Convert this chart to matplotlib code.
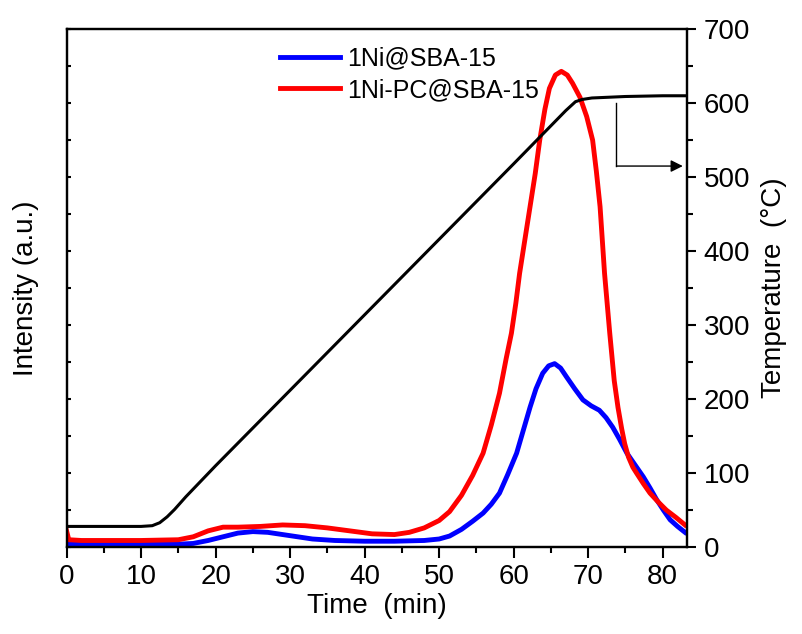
import matplotlib.pyplot as plt
from matplotlib.ticker import MultipleLocator

plt.rcParams['font.family'] = ['Liberation Sans', 'DejaVu Sans']

# 1Ni-PC@SBA-15 (in right-axis units)
time_red = [0, 0.3, 2, 5, 10, 15, 17, 19, 21, 23, 26, 29, 32, 35, 38, 41, 44, 46, 48,
            50, 51.4, 53, 54.5, 55.9, 57, 58.1, 59, 59.7, 60.3, 60.8, 61.5, 62.2,
            62.9, 63.5, 64.2, 64.8, 65.6, 66.4, 67.2, 67.9, 68.9, 69.8, 70.6, 71.1,
            71.6, 72.2, 72.9, 73.5, 74.0, 74.5, 74.9, 75.4, 76.0, 76.5, 77.4, 78.3,
            79.4, 80.5, 81.8, 83]
red = [22, 10, 9, 9, 9, 10, 14, 22, 27, 27, 28, 30, 29, 26, 22, 18, 17, 20, 26,
       36, 48, 70, 97, 127, 165, 208, 255, 289, 330, 370, 415, 460,
       505, 550, 592, 620, 638, 643, 638, 627, 608, 582, 550, 508,
       460, 370, 289, 225, 189, 160, 140, 122, 108, 100, 86, 73,
       61, 50, 40, 30]

# 1Ni@SBA-15
time_blue = [0, 5, 10, 15, 17, 19, 21, 23, 25, 27, 29, 31, 33, 36, 40, 44, 48, 50,
             51.4, 53, 54.5, 55.9, 57, 58.1, 59.2, 60.4, 61.3, 62.2, 63.0, 63.9,
             64.7, 65.5, 66.3, 67.1, 68.2, 69.3, 70.4, 71.5, 72.4, 73.3, 74.2,
             75.2, 76.3, 77.4, 78.3, 79.2, 80.1, 81, 82, 83]
blue = [4, 4, 4, 4, 5, 9, 14, 19, 21, 20, 17, 14, 11, 9, 8, 8, 9, 11,
        15, 24, 35, 46, 58, 73, 98, 127, 158, 189, 214, 235,
        245, 248, 242, 230, 214, 199, 191, 185, 175, 162, 146,
        127, 111, 95, 80, 64, 50, 37, 28, 20]

# temperature
time_temp = [0, 5, 10, 11.5, 12.5, 13.5, 14.5, 16, 20, 30, 40, 50, 60, 67,
             68.3, 69.2, 70.5, 75, 80, 83]
temp = [28, 28, 28, 29, 33, 41, 51, 68, 110, 212, 314, 416, 518, 590,
        602, 605, 607, 609, 610, 610]

# arrow pointing from temperature curve to right axis
arrow_x0, arrow_y0, arrow_y1, arrow_x1 = 73.8, 600, 515, 82.7

fig = plt.figure(figsize=(8.02, 6.34), dpi=100)
ax = fig.add_axes([0.083, 0.137, 0.773, 0.817])
ax2 = ax.twinx()

ax.plot(time_blue, blue, color='#0000ff', linewidth=3.5, label='1Ni@SBA-15')
ax.plot(time_red, red, color='#ff0000', linewidth=3.5, label='1Ni-PC@SBA-15')
ax2.plot(time_temp, temp, color='black', linewidth=2.2)

ax2.plot([arrow_x0, arrow_x0], [arrow_y0, arrow_y1], color='black', linewidth=1)
ax2.annotate('', xy=(arrow_x1, arrow_y1), xytext=(arrow_x0, arrow_y1),
             arrowprops=dict(arrowstyle='-|>', color='black', lw=1,
                             mutation_scale=18, shrinkA=0, shrinkB=0))

ax.set_xlim(0, 83.2)
ax.set_ylim(0, 700)
ax2.set_ylim(0, 700)

ax.xaxis.set_major_locator(MultipleLocator(10))
ax.xaxis.set_minor_locator(MultipleLocator(5))
ax.yaxis.set_major_locator(MultipleLocator(50))
ax.set_yticklabels([])
ax2.yaxis.set_major_locator(MultipleLocator(100))
ax2.yaxis.set_minor_locator(MultipleLocator(50))

ax.tick_params(axis='x', which='major', direction='out', length=8, width=1.5,
               labelsize=20, pad=4)
ax.tick_params(axis='x', which='minor', direction='out', length=4.5, width=1.5)
ax.tick_params(axis='y', which='major', direction='in', length=3, width=1.5)
ax2.tick_params(axis='y', which='major', direction='out', length=6.5, width=1.5,
                labelsize=20, pad=6)
ax2.tick_params(axis='y', which='minor', direction='out', length=4, width=1.5)

for a in (ax, ax2):
    for s in a.spines.values():
        s.set_linewidth(1.6)

ax.set_xlabel('Time  (min)', fontsize=20, labelpad=2)
ax.set_ylabel('Intensity (a.u.)', fontsize=20, labelpad=16)
ax2.set_ylabel('Temperature  (°C)', fontsize=20, labelpad=8)

ax.legend(loc='upper left', bbox_to_anchor=(0.316, 1.0), frameon=False,
          fontsize=18, handlelength=2.4, labelspacing=0.3, borderpad=0.2,
          handletextpad=0.3)

fig.savefig('out.png', dpi=100)
